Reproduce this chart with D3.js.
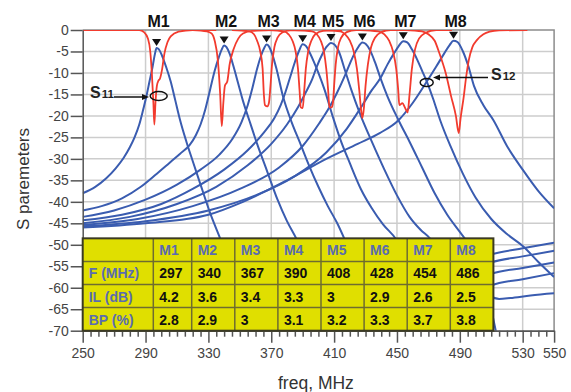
<html>
<head>
<style>
body { margin: 0; background: #fff; }
text { font-family: Arial, "Liberation Sans", sans-serif; }
.grid line { stroke: #cdcdcd; stroke-width: 1.5px; }
.axis path, .axis line { stroke: #555; stroke-width: 1.5px; }
.axis text { fill: #444; font-size: 14px; }
.s12 { fill: none; stroke: #3a5cb0; stroke-width: 2px; }
.s11 { fill: none; stroke: #f23b2e; stroke-width: 1.8px; }
</style>
<script src="https://cdnjs.cloudflare.com/ajax/libs/d3/7.8.5/d3.min.js"></script>
</head>
<body>
<script>
var width = 571;
var height = 392;

// axes
var yTicks = [0, -5, -10, -15, -20, -25, -30, -35, -40, -45, -50, -55, -60, -65, -70];
var xTicks = [250, 290, 330, 370, 410, 450, 490, 530, 550];

// table / markers
var markers = ["M1", "M2", "M3", "M4", "M5", "M6", "M7", "M8"];
var freqs = [297, 340, 367, 390, 408, 428, 454, 486];
var losses = [4.2, 3.6, 3.4, 3.3, 3, 2.9, 2.6, 2.5];
var bands = [2.8, 2.9, 3, 3.1, 3.2, 3.3, 3.7, 3.8];
var rowNames = ["F (MHz)", "IL (dB)", "BP (%)"];

// S12 curves [freq MHz, dB]
var s12M1 = [[250,-38],[258,-36.5],[265,-34.5],[271,-32.2],[276,-29.8],[280,-27.3],[283,-25],[286,-22],[288.5,-18.5],[290.5,-15.5],[292.5,-12],[294.5,-8.5],[296,-5.5],[297,-4.2],[298.5,-4.5],[300.5,-6],[303,-8.5],[306,-12],[309,-16.5],[312,-21],[316,-26],[320,-30.5],[325,-36],[331,-42.5],[338,-49],[345,-56],[352,-63],[360,-71],[380,-78],[470,-57],[510,-52.2],[530,-50.8],[550,-49.5]];
var s12M2 = [[250,-42],[262,-41],[275,-39.2],[287,-36.5],[297,-33.5],[305,-31],[312,-28.8],[318,-26.8],[322,-24.5],[325,-22],[328,-18.5],[331,-14],[334,-9.5],[336.5,-6.5],[338.5,-4.5],[340,-3.6],[341.5,-4],[343.5,-5.5],[346,-8.5],[349,-12.5],[352,-16.5],[356,-21],[361,-26.5],[367,-32.5],[374,-39.5],[380,-44.5],[386.5,-49],[393,-55],[400,-61.5],[408,-69],[415,-76],[480,-60],[510,-54.1],[530,-52.7],[550,-51.4]];
var s12M3 = [[250,-43.5],[270,-42],[290,-39.5],[310,-36],[325,-32.5],[337,-29],[345,-25.5],[351,-21.5],[355,-17.5],[358,-13.5],[361,-9],[363.5,-6],[365.5,-4.2],[367,-3.4],[368.5,-3.8],[370.5,-5.5],[373.5,-9.3],[377.5,-15.5],[383,-21.5],[388,-26],[394,-31.5],[400,-36.5],[406,-41],[412,-45],[417,-49],[425,-56],[433,-63],[440,-70],[448,-77],[490,-62],[510,-56.8],[530,-55.4],[550,-54.1]];
var s12M4 = [[250,-44.3],[275,-43],[300,-40.5],[320,-37],[340,-32.5],[355,-28],[365,-24],[372,-20.5],[376,-17.5],[379,-14.5],[382,-11],[385,-7.5],[387.5,-5],[390,-3.3],[392,-3.7],[394.5,-5.3],[397,-7.3],[400,-10],[404,-14],[409,-20],[414,-25.5],[420,-31],[427,-37],[434,-41.5],[441,-45.2],[450,-49],[458,-55],[466,-62],[474,-70],[482,-76],[500,-64],[510,-59.5],[530,-58],[550,-56.6]];
var s12M5 = [[250,-45],[280,-43.5],[310,-40.5],[335,-36.5],[355,-31.5],[370,-26.5],[380,-22],[387,-18],[392,-14.5],[396,-11.5],[399,-8.5],[402,-6],[405,-4],[408,-3],[410,-3.3],[413,-5],[417,-9.5],[421,-14],[427,-20],[434,-26],[442,-32.5],[450,-38.5],[458,-43.5],[465,-46.5],[471,-48.5],[478,-52],[490,-57],[500,-60],[508,-61.8],[515,-62.6],[522,-62.4],[535,-61.8],[550,-61.3]];
var s12M6 = [[250,-45.4],[285,-44],[320,-41],[350,-37],[375,-32],[390,-27],[400,-22],[407,-18],[412,-14.5],[417,-10.5],[421,-7],[424.5,-4.5],[428,-2.9],[430,-3.2],[433,-4.8],[436,-7.5],[439.5,-11.2],[444,-15.5],[451,-21],[458,-26],[466,-32],[474,-38],[482,-43],[490,-47],[495,-49.5],[502,-55],[508,-62],[514,-72]];
var s12M7 = [[250,-45.7],[290,-44.5],[330,-42],[360,-38.5],[385,-34],[405,-28.5],[418,-23],[428,-17.5],[434,-14],[439.5,-11.2],[444,-8],[448,-5.5],[451,-3.8],[454,-2.6],[456.5,-2.9],[459.5,-4.5],[463,-7],[466,-9.5],[469,-12],[473,-16],[477.5,-21],[484,-27],[492,-33.5],[500,-39],[510,-44],[520,-47.5],[530.4,-50.4],[540,-54],[550,-57.5]];
var s12M8 = [[250,-46],[290,-45],[330,-43],[352,-40],[380,-35],[405,-30],[425,-26.5],[439,-24],[451,-21],[460,-17],[469,-12],[475,-8.5],[480,-5.5],[483.5,-3.5],[486,-2.5],[488.5,-2.8],[492,-5],[495.5,-8.5],[499,-13],[505,-17.5],[511.4,-21],[520,-27],[530,-32.5],[540,-37.5],[550,-41.5]];

// S11 curves
var s11M1 = [[250,0],[286,0],[289,-0.5],[291.5,-2],[293,-5],[294,-10],[295,-17],[295.6,-22],[296.3,-17],[297.2,-13],[298.2,-11.8],[299.2,-11.3],[300.6,-9],[302,-5.5],[304,-2.8],[306,-1.5],[311,-0.4],[320,0],[335,0]];
var s11M2 = [[320,0],[329,-0.3],[332,-0.8],[334,-2.5],[336,-7],[337.5,-15],[338.5,-22.4],[339.5,-17],[340.5,-13],[342,-12],[343.5,-8],[346,-4.5],[349,-2],[352,-0.8],[358,-0.2],[370,0]];
var s11M3 = [[345,0],[356,-0.3],[359,-1],[361,-2.5],[363,-5],[364.5,-9],[365.3,-15],[366,-17.5],[367.5,-17.8],[368.5,-17],[369.5,-13],[370.5,-8],[372,-4],[374,-1.8],[377,-0.6],[382,-0.1],[395,0]];
var s11M4 = [[368,0],[378,-0.3],[381,-1],[383.5,-2.5],[385.5,-5],[387,-9],[388,-14],[388.8,-18],[390,-18.2],[391,-14],[392,-9],[393.5,-5],[395.5,-2.5],[398,-1],[403,-0.2],[415,0]];
var s11M5 = [[385,0],[396,-0.3],[399,-1],[401.5,-2.5],[403.5,-5],[405,-9],[406.2,-14],[407,-18],[408.5,-18],[409.3,-16.8],[410,-13],[411,-8],[412.5,-4],[414.5,-1.8],[418,-0.5],[424,0],[435,0]];
var s11M6 = [[404,0],[414,-0.3],[417,-1],[420,-2.5],[422.5,-5],[424.5,-9],[426,-14],[427.3,-19],[428,-20.5],[429,-18],[430,-13],[431.5,-8],[433.5,-4],[436,-1.8],[440,-0.5],[446,0],[458,0]];
var s11M7 = [[426,0],[438,-0.3],[442,-1],[445,-2.5],[447.5,-5],[449.5,-9],[450.8,-14],[451.5,-17.5],[453.5,-17],[455,-18],[456.8,-19.2],[458,-15],[459.5,-9],[461.5,-4.5],[464,-2],[468,-0.7],[475,0],[485,0]];
var s11M8 = [[455,0],[466,-0.3],[470,-1],[474,-2.5],[477,-5.4],[481,-10],[484.5,-15.5],[487.5,-20],[489.3,-24],[490.5,-20.5],[492.5,-15.5],[494,-11],[495.7,-7],[498,-4],[501,-2.3],[505,-1],[509,-0.4],[515,-0.1],[533,0]];

var s12Curves = [s12M1, s12M2, s12M3, s12M4, s12M5, s12M6, s12M7, s12M8];
var s11Curves = [s11M1, s11M2, s11M3, s11M4, s11M5, s11M6, s11M7, s11M8];

var x = d3.scaleLinear().domain([250, 550]).range([82.7, 554.1]);
var y = d3.scaleLinear().domain([0, -70]).range([30, 330.7]);

var svg = d3.select("body")
    .append("svg")
    .attr("width", width)
    .attr("height", height)
    .style("background", "#fff");

svg.append("defs").append("clipPath")
    .attr("id", "plot")
    .append("rect")
    .attr("x", x(250))
    .attr("y", y(0))
    .attr("width", x(550) - x(250))
    .attr("height", y(-70) - y(0));

// grid
var grid = svg.append("g").attr("class", "grid");
grid.selectAll(".h")
    .data(yTicks.filter(d => d != 0 && d != -70))
    .enter().append("line")
    .attr("x1", x(250)).attr("x2", x(550))
    .attr("y1", d => y(d)).attr("y2", d => y(d));
grid.selectAll(".v")
    .data(xTicks.filter(d => d != 250 && d != 550))
    .enter().append("line")
    .attr("y1", y(0)).attr("y2", y(-70))
    .attr("x1", d => x(d)).attr("x2", d => x(d));

// top / right frame
svg.append("path")
    .attr("d", "M" + x(250) + "," + y(0) + "H" + x(550) + "V" + y(-70))
    .attr("fill", "none")
    .attr("stroke", "#8c8c8c")
    .attr("stroke-width", 1.5);

var line = d3.line()
    .x(d => x(d[0]))
    .y(d => y(d[1]))
    .curve(d3.curveMonotoneX);

var curves = svg.append("g").attr("clip-path", "url(#plot)");

curves.selectAll(".s12")
    .data(s12Curves)
    .enter().append("path")
    .attr("class", "s12")
    .attr("d", line);

curves.selectAll(".s11")
    .data(s11Curves)
    .enter().append("path")
    .attr("class", "s11")
    .attr("d", line);

// axes
svg.append("g")
    .attr("class", "axis")
    .attr("transform", "translate(" + x(250) + ",0)")
    .call(d3.axisLeft(y).tickValues(yTicks).tickSize(12).tickSizeOuter(0).tickPadding(2).tickFormat(d => String(d)));

var minor = d3.range(255, 550, 5).filter(d => xTicks.indexOf(d) < 0);
svg.append("g")
    .attr("class", "axis")
    .attr("transform", "translate(0," + y(-70) + ")")
    .call(d3.axisBottom(x).tickValues(minor).tickSize(6).tickSizeOuter(0).tickFormat(""));

svg.append("g")
    .attr("class", "axis")
    .attr("transform", "translate(0," + y(-70) + ")")
    .call(d3.axisBottom(x).tickValues(xTicks).tickSize(12).tickSizeOuter(0).tickPadding(5).tickFormat(d => String(d)));

// table
var tLeft = x(250), tTop = y(-48.5), tBottom = y(-70);
var rowH = (tBottom - tTop) / 4;
var colW = [70.6, 38.4, 43.1, 43.1, 43.1, 43.1, 43.1, 43.1, 43.1];
var colX = [tLeft];
colW.forEach((w, i) => colX.push(colX[i] + w));
var table = svg.append("g");
table.append("rect")
    .attr("x", tLeft).attr("y", tTop)
    .attr("width", colX[colX.length - 1] - tLeft)
    .attr("height", tBottom - tTop)
    .attr("fill", "#e0df00");
for (var r = 1; r < 4; r++) {
    table.append("line")
        .attr("x1", tLeft).attr("x2", colX[colX.length - 1])
        .attr("y1", tTop + r * rowH).attr("y2", tTop + r * rowH)
        .attr("stroke", "#6e6c30").attr("stroke-width", 1.5);
}
colX.slice(1, -1).forEach(cx => {
    table.append("line")
        .attr("x1", cx).attr("x2", cx)
        .attr("y1", tTop).attr("y2", tBottom)
        .attr("stroke", "#6e6c30").attr("stroke-width", 1.5);
});
table.append("rect")
    .attr("x", tLeft).attr("y", tTop)
    .attr("width", colX[colX.length - 1] - tLeft)
    .attr("height", tBottom - tTop)
    .attr("fill", "none")
    .attr("stroke", "#3b3a22").attr("stroke-width", 2);

var rows = [markers, freqs, losses, bands];
rows.forEach((vals, r) => {
    table.selectAll(".r" + r)
        .data(vals)
        .enter().append("text")
        .attr("x", (d, i) => colX[i + 1] + 6)
        .attr("y", tTop + r * rowH + 17)
        .attr("font-size", "14px")
        .attr("font-weight", "bold")
        .attr("fill", r == 0 ? "#5a6cb0" : "#111")
        .text(d => d);
});
table.selectAll(".rn")
    .data(rowNames)
    .enter().append("text")
    .attr("x", tLeft + 6)
    .attr("y", (d, i) => tTop + (i + 1) * rowH + 17)
    .attr("font-size", "14px")
    .attr("font-weight", "bold")
    .attr("fill", "#5a6cb0")
    .text(d => d);

// markers
svg.selectAll(".tri")
    .data(freqs)
    .enter().append("path")
    .attr("d", (d, i) => {
        var px = x(d), tip = y(-losses[i]) - 2;
        return "M" + (px - 4.5) + "," + (tip - 7) + "L" + (px + 4.5) + "," + (tip - 7) + "L" + px + "," + tip + "Z";
    })
    .attr("fill", "#111");

svg.selectAll(".mlabel")
    .data(markers)
    .enter().append("text")
    .attr("x", (d, i) => x(freqs[i]) + 2)
    .attr("y", 27)
    .attr("text-anchor", "middle")
    .attr("font-size", "16px")
    .attr("font-weight", "bold")
    .attr("fill", "#111")
    .text(d => d);

// S11 / S12 annotations
function label(px, py, sub) {
    var t = svg.append("text")
        .attr("x", px).attr("y", py)
        .attr("font-weight", "bold")
        .attr("fill", "#222");
    t.append("tspan").attr("font-size", "16px").text("S");
    t.append("tspan").attr("font-size", "11.5px").attr("dx", 1).text(sub);
}
function arrow(x1, x2, yy) {
    var dir = x2 > x1 ? 1 : -1;
    svg.append("line")
        .attr("x1", x1).attr("x2", x2 - dir * 5)
        .attr("y1", yy).attr("y2", yy)
        .attr("stroke", "#111").attr("stroke-width", 1.5);
    svg.append("path")
        .attr("d", "M" + x2 + "," + yy + "L" + (x2 - dir * 7) + "," + (yy - 3) + "L" + (x2 - dir * 7) + "," + (yy + 3) + "Z")
        .attr("fill", "#111");
}
label(90, 98, "11");
arrow(114, 149, 97);
svg.append("ellipse")
    .attr("cx", 158.7).attr("cy", 96)
    .attr("rx", 8.5).attr("ry", 4.5)
    .attr("fill", "none").attr("stroke", "#111").attr("stroke-width", 1.5);

label(491, 80, "12");
arrow(488, 433, 77.5);
svg.append("ellipse")
    .attr("cx", 426.7).attr("cy", 82.5)
    .attr("rx", 6.5).attr("ry", 4)
    .attr("fill", "none").attr("stroke", "#111").attr("stroke-width", 1.5);

// axis titles
svg.append("text")
    .attr("transform", "translate(29,179) rotate(-90)")
    .attr("text-anchor", "middle")
    .attr("font-size", "17px")
    .attr("fill", "#333")
    .text("S paremeters");

svg.append("text")
    .attr("x", 278)
    .attr("y", 389)
    .attr("font-size", "17.5px")
    .attr("fill", "#333")
    .text("freq, MHz");
</script>
</body>
</html>
